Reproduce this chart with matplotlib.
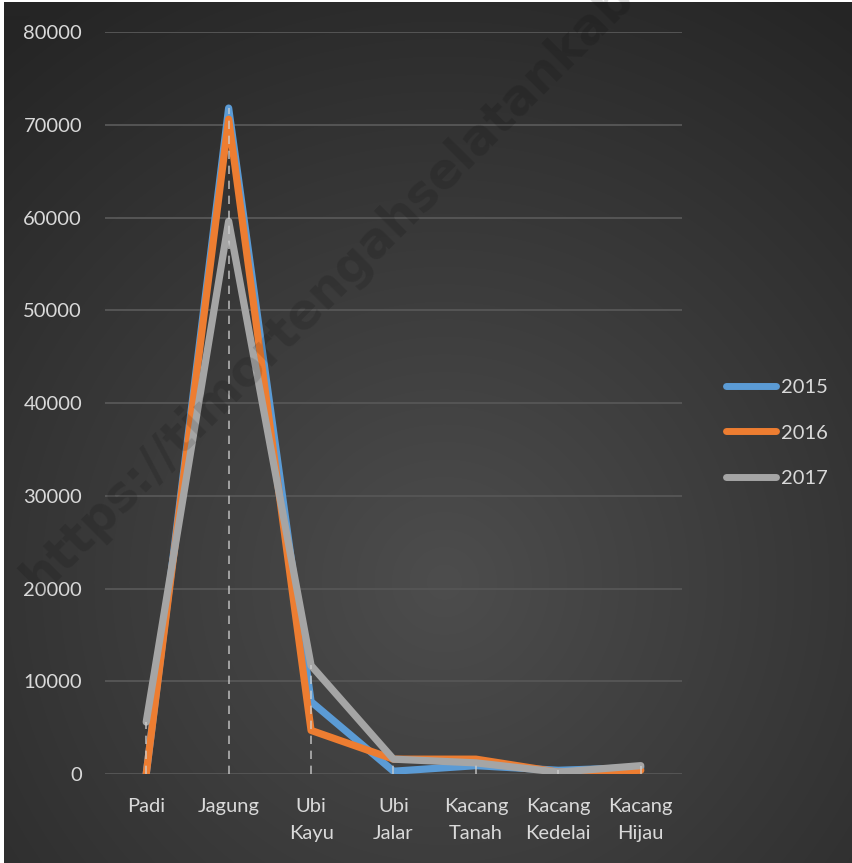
import numpy as np
import matplotlib.pyplot as plt
from matplotlib.lines import Line2D

kategori = ["Padi", "Jagung", "Ubi\nKayu", "Ubi\nJalar", "Kacang\nTanah", "Kacang\nKedelai", "Kacang\nHijau"]
th2015 = [0, 71800, 7800, 300, 900, 400, 700]
th2016 = [0, 70600, 4700, 1600, 1600, 200, 400]
th2017 = [5600, 59600, 11700, 1600, 1200, 200, 900]
tahun = ["2015", "2016", "2017"]
warna = ["#5B9BD5", "#ED7D31", "#A5A5A5"]

plt.rcParams['font.family'] = ['Lato', 'DejaVu Sans']

fig = plt.figure(figsize=(8.52, 8.63), dpi=100, facecolor="white")

# background radial gradient
bg = fig.add_axes([4/852, 0, 848/852, 861/863])
bg.set_axis_off()
yy, xx = np.mgrid[0:861, 0:848]
r = np.sqrt((xx - 440) ** 2 + (yy - 580) ** 2) / 700
r = np.clip(r, 0, 1)
c0 = np.array([0x4d, 0x4d, 0x4d]) / 255
c1 = np.array([0x25, 0x25, 0x25]) / 255
img = c0[None, None, :] * (1 - r[..., None]) + c1[None, None, :] * r[..., None]
bg.imshow(img, aspect='auto', interpolation='bilinear')

# watermark
fig.text(425/852, 1 - 190/863, "https://timortengahselatankab.bps.go.id", rotation=45,
         rotation_mode='anchor', ha='center', va='center', fontsize=35, fontweight='bold',
         color='black', alpha=0.13, family=['DejaVu Sans'])

ax = fig.add_axes([105/852, 1 - 774/863, 577/852, 742/863])
ax.patch.set_alpha(0)
x = np.arange(len(kategori))

for yv, lab, c in zip([th2015, th2016, th2017], tahun, warna):
    ax.plot(x, yv, color=c, lw=5.2, solid_capstyle='round', solid_joinstyle='round', label=lab, zorder=3)

# drop lines
tinggi = np.max([th2015, th2016, th2017], axis=0)
ax.vlines(x, 0, tinggi, colors='#d0d0d0', linestyles=(0, (5, 4)), lw=1.2, alpha=0.8, zorder=4)

ax.set_xlim(-0.5, 6.5)
ax.set_ylim(0, 80000)
ax.set_yticks(np.arange(0, 80001, 10000))
ax.set_xticks(x)
ax.set_xticklabels(kategori, linespacing=1.75)
ax.tick_params(colors='#d9d9d9', labelsize=14.5, length=0)
ax.tick_params(axis='y', pad=16.5)
ax.tick_params(axis='x', pad=17)
ax.grid(axis='y', color='#555555', lw=1.4)
ax.set_axisbelow(True)
for s in ax.spines.values():
    s.set_visible(False)

handles = [Line2D([], [], color=c, lw=5, solid_capstyle='round') for c in warna]
fig.legend(handles, tahun, loc='center left', bbox_to_anchor=(708/852, 1 - 433/863),
           frameon=False, fontsize=14.5, labelcolor='#d9d9d9', handlelength=2.5,
           handletextpad=0.2, labelspacing=1.42)

plt.savefig("out.png", dpi=100, facecolor=fig.get_facecolor())
